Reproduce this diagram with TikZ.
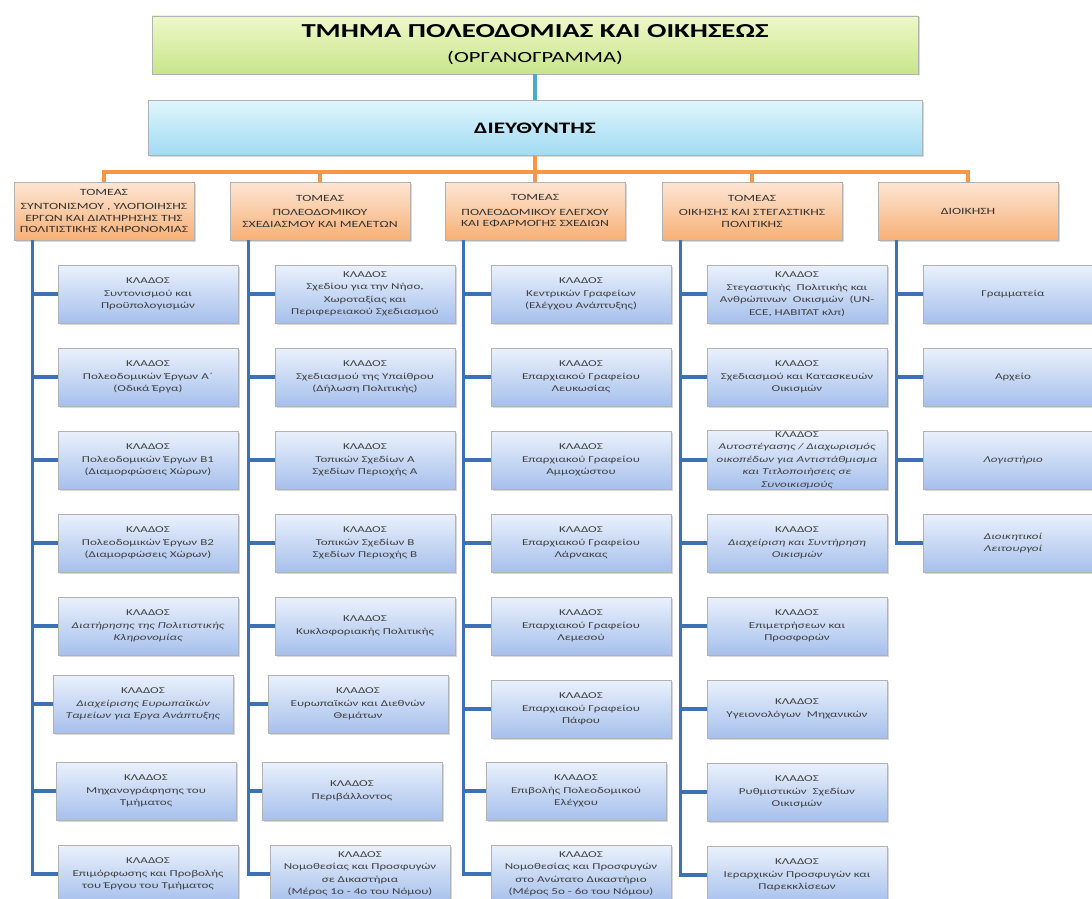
\documentclass[tikz,border=0pt]{standalone}
\usepackage{fontspec}
\setmainfont{Carlito}[FakeStretch=1.45]
\usetikzlibrary{shadows}

\definecolor{titletop}{RGB}{238,248,202}
\definecolor{titlebot}{RGB}{200,229,138}
\definecolor{dirtop}{RGB}{224,246,253}
\definecolor{dirbot}{RGB}{160,218,242}
\definecolor{tomtop}{RGB}{253,230,212}
\definecolor{tombot}{RGB}{247,176,118}
\definecolor{kltop}{RGB}{234,241,252}
\definecolor{klbot}{RGB}{166,192,236}
\definecolor{lineorange}{RGB}{247,150,70}
\definecolor{lineblue}{RGB}{62,112,182}
\definecolor{lineteal}{RGB}{75,172,198}

\begin{document}
\begin{tikzpicture}[x=1pt, y=-1pt,
  box/.style={draw=gray!60, line width=0.7pt, align=center, inner sep=1pt,
    drop shadow={opacity=0.3, shadow xshift=1.5pt, shadow yshift=-1.5pt}},
  titlebox/.style={box, top color=titletop, bottom color=titlebot, minimum width=766pt, minimum height=58pt},
  dirbox/.style={box, top color=dirtop, bottom color=dirbot, minimum width=774pt, minimum height=55pt},
  tomeas/.style={box, top color=tomtop, bottom color=tombot, minimum width=180pt, minimum height=58pt,
    font=\fontsize{9.5}{11.5}\selectfont, text=black!80},
  klados/.style={box, top color=kltop, bottom color=klbot, minimum width=180pt, minimum height=58pt,
    font=\fontsize{9}{12.5}\selectfont, text=black!75},
  kladosit/.style={klados, font=\fontsize{9}{12.5}\selectfont\itshape},
  orangeline/.style={draw=lineorange, line width=3.5pt},
  blueline/.style={draw=lineblue, line width=3.5pt},
  tealline/.style={draw=lineteal, line width=3.5pt}
]
\useasboundingbox (0,0) rectangle (1092,899);
\fill[white] (0,0) rectangle (1092,899);
\clip (0,0) rectangle (1092,899);

%Title
\node[titlebox] (title) at (535,45) {{\fontsize{19.8}{22}\selectfont\bfseries ΤΜΗΜΑ ΠΟΛΕΟΔΟΜΙΑΣ ΚΑΙ ΟΙΚΗΣΕΩΣ}\\[13pt]{\fontsize{15.5}{17}\selectfont (ΟΡΓΑΝΟΓΡΑΜΜΑ)}};

%Director
\node[dirbox] (dir) at (535,128) {\fontsize{16}{18}\selectfont\bfseries ΔΙΕΥΘΥΝΤΗΣ};

%% Tomeis
\node[tomeas] (t1) at (104,211) {ΤΟΜΕΑΣ\\[3pt]ΣΥΝΤΟΝΙΣΜΟΥ , ΥΛΟΠΟΙΗΣΗΣ\\ΕΡΓΩΝ ΚΑΙ ΔΙΑΤΗΡΗΣΗΣ ΤΗΣ\\ΠΟΛΙΤΙΣΤΙΚΗΣ ΚΛΗΡΟΝΟΜΙΑΣ};
\node[tomeas] (t2) at (320,211) {ΤΟΜΕΑΣ\\[3pt]ΠΟΛΕΟΔΟΜΙΚΟΥ\\ΣΧΕΔΙΑΣΜΟΥ ΚΑΙ ΜΕΛΕΤΩΝ};
\node[tomeas] (t3) at (535,211) {ΤΟΜΕΑΣ\\[3pt]ΠΟΛΕΟΔΟΜΙΚΟΥ ΕΛΕΓΧΟΥ\\ΚΑΙ ΕΦΑΡΜΟΓΗΣ ΣΧΕΔΙΩΝ};
\node[tomeas] (t4) at (752,211) {ΤΟΜΕΑΣ\\[3pt]ΟΙΚΗΣΗΣ ΚΑΙ ΣΤΕΓΑΣΤΙΚΗΣ\\ΠΟΛΙΤΙΚΗΣ};
\node[tomeas] (t5) at (968,211) {ΔΙΟΙΚΗΣΗ};

% First column
\node[klados] (k11) at (148,294) {ΚΛΑΔΟΣ\\Συντονισμού και\\Προϋπολογισμών};
\node[klados] (k12) at (148,377) {ΚΛΑΔΟΣ\\Πολεοδομικών Έργων Α΄\\(Οδικά Έργα)};
\node[klados] (k13) at (148,460) {ΚΛΑΔΟΣ\\Πολεοδομικών Έργων Β1\\(Διαμορφώσεις Χώρων)};
\node[klados] (k14) at (148,543) {ΚΛΑΔΟΣ\\Πολεοδομικών Έργων Β2\\(Διαμορφώσεις Χώρων)};
\node[kladosit] (k15) at (148,626) {{\upshape ΚΛΑΔΟΣ}\\Διατήρησης της Πολιτιστικής\\Κληρονομίας};
\node[kladosit] (k16) at (143,704) {{\upshape ΚΛΑΔΟΣ}\\Διαχείρισης Ευρωπαϊκών\\Ταμείων για Έργα Ανάπτυξης};
\node[klados] (k17) at (146,791) {ΚΛΑΔΟΣ\\Μηχανογράφησης του\\Τμήματος};
\node[klados] (k18) at (148,874) {ΚΛΑΔΟΣ\\Επιμόρφωσης και Προβολής\\του Έργου του Τμήματος};

% Second column
\node[klados] (k21) at (365,294) {ΚΛΑΔΟΣ\\Σχεδίου για την Νήσο,\\Χωροταξίας και\\Περιφερειακού Σχεδιασμού};
\node[klados] (k22) at (365,377) {ΚΛΑΔΟΣ\\Σχεδιασμού της Υπαίθρου\\(Δήλωση Πολιτικής)};
\node[klados] (k23) at (365,460) {ΚΛΑΔΟΣ\\Τοπικών Σχεδίων Α\\Σχεδίων Περιοχής Α};
\node[klados] (k24) at (365,543) {ΚΛΑΔΟΣ\\Τοπικών Σχεδίων Β\\Σχεδίων Περιοχής Β};
\node[klados] (k25) at (365,626) {ΚΛΑΔΟΣ\\Κυκλοφοριακής Πολιτικής};
\node[klados] (k26) at (358,704) {ΚΛΑΔΟΣ\\Ευρωπαϊκών και Διεθνών\\Θεμάτων};
\node[klados] (k27) at (352,791) {ΚΛΑΔΟΣ\\Περιβάλλοντος};
\node[klados] (k28) at (360,874) {ΚΛΑΔΟΣ\\Νομοθεσίας και Προσφυγών\\σε Δικαστήρια\\(Μέρος 1ο - 4ο του Νόμου)};

% Third column
\node[klados] (k31) at (581,294) {ΚΛΑΔΟΣ\\Κεντρικών Γραφείων\\(Ελέγχου Ανάπτυξης)};
\node[klados] (k32) at (581,377) {ΚΛΑΔΟΣ\\Επαρχιακού Γραφείου\\Λευκωσίας};
\node[klados] (k33) at (581,460) {ΚΛΑΔΟΣ\\Επαρχιακού Γραφείου\\Αμμοχώστου};
\node[klados] (k34) at (581,543) {ΚΛΑΔΟΣ\\Επαρχιακού Γραφείου\\Λάρνακας};
\node[klados] (k35) at (581,626) {ΚΛΑΔΟΣ\\Επαρχιακού Γραφείου\\Λεμεσού};
\node[klados] (k36) at (581,709) {ΚΛΑΔΟΣ\\Επαρχιακού Γραφείου\\Πάφου};
\node[klados] (k37) at (576,791) {ΚΛΑΔΟΣ\\Επιβολής Πολεοδομικού\\Ελέγχου};
\node[klados] (k38) at (581,874) {ΚΛΑΔΟΣ\\Νομοθεσίας και Προσφυγών\\στο Ανώτατο Δικαστήριο\\(Μέρος 5ο - 6ο του Νόμου)};

% Fourth column
\node[klados] (k41) at (797,294) {ΚΛΑΔΟΣ\\Στεγαστικής\ \ Πολιτικής και\\Ανθρώπινων\ \ Οικισμών\ \ (UN-\\ECE, HABITAT κλπ)};
\node[klados] (k42) at (797,377) {ΚΛΑΔΟΣ\\Σχεδιασμού και Κατασκευών\\Οικισμών};
\node[kladosit] (k43) at (797,460) {{\upshape ΚΛΑΔΟΣ}\\Αυτοστέγασης / Διαχωρισμός\\οικοπέδων για Αντιστάθμισμα\\και Τιτλοποιήσεις σε\\Συνοικισμούς};
\node[kladosit] (k44) at (797,543) {{\upshape ΚΛΑΔΟΣ}\\Διαχείριση και Συντήρηση\\Οικισμών};
\node[klados] (k45) at (797,626) {ΚΛΑΔΟΣ\\Επιμετρήσεων και\\Προσφορών};
\node[klados] (k46) at (797,709) {ΚΛΑΔΟΣ\\Υγειονολόγων\ \ Μηχανικών};
\node[klados] (k47) at (797,792) {ΚΛΑΔΟΣ\\Ρυθμιστικών\ \ Σχεδίων\\Οικισμών};
\node[klados] (k48) at (797,875) {ΚΛΑΔΟΣ\\Ιεραρχικών Προσφυγών και\\Παρεκκλίσεων};

% Fifth column
\node[klados] (k51) at (1013,294) {Γραμματεία};
\node[klados] (k52) at (1013,377) {Αρχείο};
\node[kladosit] (k53) at (1013,460) {Λογιστήριο};
\node[kladosit] (k54) at (1013,543) {Διοικητικοί\\Λειτουργοί};

%% Connectors
\draw[tealline] (title) -- (dir);
\foreach \t in {t1,t2,t3,t4,t5}
\draw[orangeline] (dir.south) -- ++(0,16) -| (\t.north);

\foreach \c in {1,...,5}
\coordinate (s\c) at ([xshift=19pt]t\c.south west);
\foreach \c in {1,...,4}
\foreach \i in {1,...,8}
\draw[blueline] (s\c) |- (k\c\i.west);
\foreach \i in {1,...,4}
\draw[blueline] (s5) |- (k5\i.west);

\end{tikzpicture}
\end{document}
